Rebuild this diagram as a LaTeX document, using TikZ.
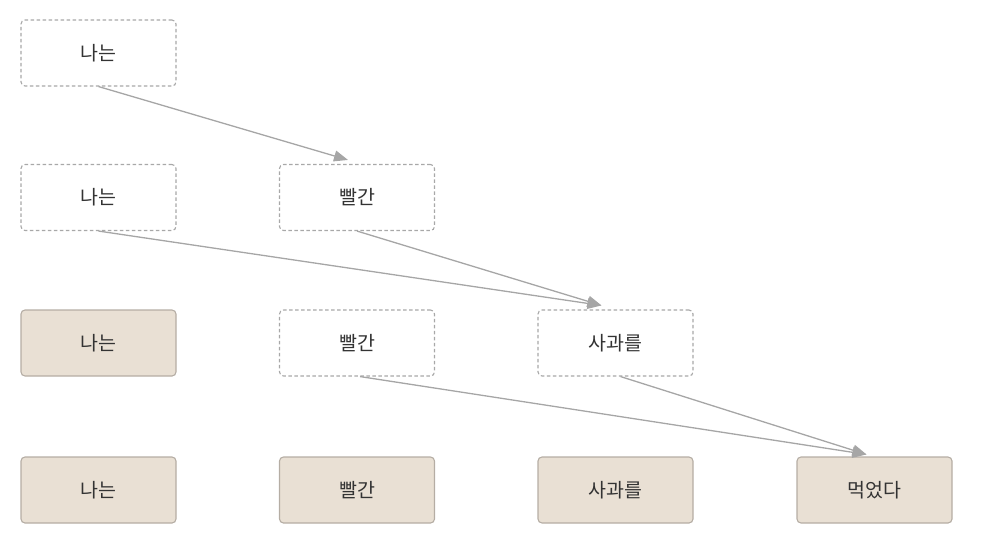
\documentclass[tikz,border=0pt]{standalone}
\usepackage{fontspec}
\newfontfamily\kr{Noto Sans CJK KR}
\usetikzlibrary{arrows.meta,calc}
\definecolor{dashgray}{HTML}{A8A8A8}
\definecolor{beige}{HTML}{E9E0D4}
\definecolor{beigeborder}{HTML}{B5ADA4}
\definecolor{arrgray}{HTML}{A6A6A6}
\definecolor{txt}{HTML}{333333}
\tikzset{
  wbox/.style={draw=dashgray, dash pattern=on 3.5pt off 2.5pt, line width=1.1pt, fill=white, rounded corners=4pt,
    minimum width=155pt, minimum height=66pt, inner sep=0pt, font=\kr\fontsize{19.5}{22}\selectfont, text=txt},
  fbox/.style={draw=beigeborder, line width=1.1pt, fill=beige, rounded corners=4pt,
    minimum width=155pt, minimum height=66pt, inner sep=0pt, font=\kr\fontsize{19.5}{22}\selectfont, text=txt},
  conn/.style={draw=arrgray, line width=1.3pt, -{Triangle[length=14pt,width=11pt]}}
}
\begin{document}
\begin{tikzpicture}[x=1pt,y=-1pt]
\useasboundingbox (0,0) rectangle (992,536);
% row 1
\node[wbox] (a1) at (98.5,53) {나는};
% row 2
\node[wbox] (b1) at (98.5,197.5) {나는};
\node[wbox] (b2) at (357,197.5) {빨간};
% row 3
\node[fbox] (c1) at (98.5,343) {나는};
\node[wbox] (c2) at (357,343) {빨간};
\node[wbox] (c3) at (615.5,343) {사과를};
% row 4
\node[fbox] (d1) at (98.5,490) {나는};
\node[fbox] (d2) at (357,490) {빨간};
\node[fbox] (d3) at (615.5,490) {사과를};
\node[fbox] (d4) at (874.5,490) {먹었다};
% target points
\coordinate (tb2) at ($(b2.north)+(-9,-4)$);
\coordinate (tc3) at ($(c3.north)+(-14,-4)$);
\coordinate (td4) at ($(d4.north)+(-8,-2)$);
% connectors
\draw[conn] (a1.south) -- (tb2);
\draw[conn] (b1.south) -- (tc3);
\draw[conn] (b2.south) -- (tc3);
\draw[conn] ($(c2.south)+(3,0)$) -- (td4);
\draw[conn] ($(c3.south)+(5,0)$) -- (td4);
\end{tikzpicture}
\end{document}
